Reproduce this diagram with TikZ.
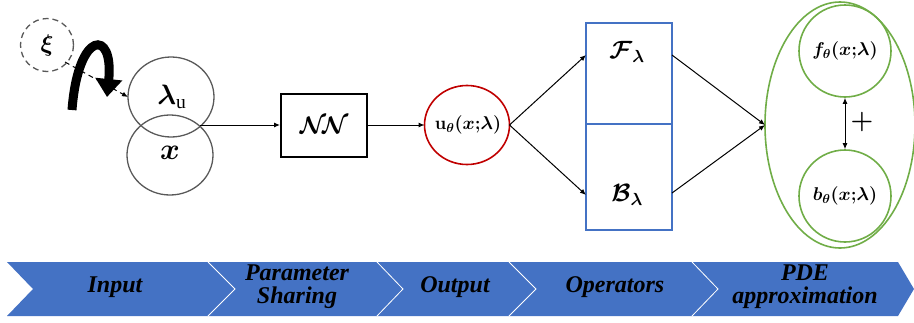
\RequirePackage{fix-cm}
\documentclass[tikz,border=0pt]{standalone}
\usepackage{amsmath}
\usepackage{bm}
\usepackage{fontspec}
\setmainfont{Liberation Serif}
\usetikzlibrary{arrows.meta}
\definecolor{cgray}{HTML}{595959}
\definecolor{cred}{HTML}{C00000}
\definecolor{cblue}{HTML}{4472C4}
\definecolor{cgreen}{HTML}{70AD47}
\tikzset{
  conn/.style={draw=black, line width=1pt, -{Latex[length=6pt,width=5pt]}},
  band/.style={fill=cblue},
  sep/.style={draw=white, line width=0.8pt},
  bandtxt/.style={font=\fontsize{24}{26}\selectfont\bfseries\itshape, align=center, text=black},
  mtxt/.style={font=\fontsize{18.5}{20}\selectfont\boldmath},
}
\begin{document}
\begin{tikzpicture}[x=1pt,y=-1pt]
\useasboundingbox (0,0) rectangle (914,322);
% xi
\node[circle, draw=cgray, dash pattern=on 6pt off 4pt, line width=1.3pt, minimum width=53pt, inner sep=0pt, font=\fontsize{24}{26}\selectfont] (xi) at (47,45) {$\bm{\xi}$};
% lambda and x circles
\draw[cgray, line width=1.3pt] (171,97) ellipse (43 and 40);
\node[font=\fontsize{28}{30}\selectfont] (lam) at (172,97) {$\bm{\lambda}_{\mathrm{u}}$};
\coordinate (lamw) at (128,97);
\draw[cgray, line width=1.3pt] (170,155) ellipse (43 and 40);
\node[font=\fontsize{30}{32}\selectfont] (xx) at (170,153) {$\bm{x}$};
\coordinate (join) at (200,125);
% dashed arrow xi -> lambda
\draw[black, line width=1pt, dash pattern=on 5pt off 4pt, -{Latex[length=6pt,width=5pt]}] (65,62) -- (lamw);
% thick curved arrow
\draw[line width=9pt, -{Triangle[length=18pt,width=26pt]}] (72,110) .. controls (78,30) and (114,28) .. (107,97);
% NN box
\node[draw=black, line width=2pt, minimum width=86pt, minimum height=63pt, inner sep=0pt, font=\fontsize{24}{26}\selectfont] (nn) at (324,125) {$\bm{\mathcal{N}\!\mathcal{N}}$};
\draw[conn] (join) -- (nn.west);
% u circle
\draw[cred, line width=1.6pt] (467,125) ellipse (42.5 and 39.5);
\node[mtxt] (ut) at (468,125) {$\mathbf{u}_\theta(\bm{x}{;}\bm{\lambda})$};
\coordinate (uw) at (424.5,125);
\coordinate (ue) at (509.5,125);
\draw[conn] (nn.east) -- (uw);
% operators box
\node[draw=cblue, line width=1.5pt, minimum width=86pt, minimum height=101pt, inner sep=0pt] (F) at (629,73.5) {};
\node[draw=cblue, line width=1.5pt, minimum width=86pt, minimum height=106pt, inner sep=0pt] (B) at (629,177) {};
\node[font=\fontsize{25}{28}\selectfont] (Ft) at (627,52) {$\bm{\mathcal{F}}_{\bm{\lambda}}$};
\node[font=\fontsize{25}{28}\selectfont] (Bt) at (627,195) {$\bm{\mathcal{B}}_{\bm{\lambda}}$};
\coordinate (Fin) at (586,55);
\coordinate (Bin) at (586,195);
\coordinate (Fout) at (672,55);
\coordinate (Bout) at (672,193);
\draw[conn] (ue) -- (Fin);
\draw[conn] (ue) -- (Bin);
% PDE approximation
\draw[cgreen, line width=1.6pt] (840,125) ellipse (75 and 123);
\coordinate (pw) at (765,125);
\draw[conn] (Fout) -- (pw);
\draw[conn] (Bout) -- (pw);
\node[circle, draw=cgreen, line width=1.6pt, minimum size=92pt, inner sep=0pt] (f) at (845,51) {};
\node[mtxt] at (845,51) {$\bm{f}_\theta(\bm{x}{;}\bm{\lambda})$};
\node[circle, draw=cgreen, line width=1.6pt, minimum size=92pt, inner sep=0pt] (b) at (845,196) {};
\node[mtxt] at (845,196) {$\bm{b}_\theta(\bm{x}{;}\bm{\lambda})$};
\draw[black, line width=1pt, {Latex[length=6pt,width=5pt]}-{Latex[length=6pt,width=5pt]}] (f.south) -- (b.north);
\node[font=\fontsize{26}{28}\selectfont\boldmath] (plus) at (862,122) {$+$};
% band
\fill[band] (7,262) -- (208,262) -- (235,289) -- (208,316) -- (7,316) -- (33,289) -- cycle;
\fill[band] (208,262) -- (377,262) -- (403,289) -- (377,316) -- (208,316) -- (235,289) -- cycle;
\fill[band] (377,262) -- (509,262) -- (536,289) -- (509,316) -- (377,316) -- (403,289) -- cycle;
\fill[band] (509,262) -- (692,262) -- (718,289) -- (692,316) -- (509,316) -- (536,289) -- cycle;
\fill[band] (692,262) -- (898,262) -- (914,289) -- (898,316) -- (692,316) -- (718,289) -- cycle;
\draw[sep] (208,262) -- (235,289) -- (208,316);
\draw[sep] (377,262) -- (403,289) -- (377,316);
\draw[sep] (509,262) -- (536,289) -- (509,316);
\draw[sep] (692,262) -- (718,289) -- (692,316);
\node[bandtxt] (s1) at (115,287) {Input};
\node[bandtxt] (s2) at (297,287) {Parameter\\[-3pt]Sharing};
\node[bandtxt] (s3) at (455,287) {Output};
\node[bandtxt] (s4) at (615,287) {Operators};
\node[bandtxt] (s5) at (805,287) {PDE\\[-3pt]approximation};
\end{tikzpicture}
\end{document}
